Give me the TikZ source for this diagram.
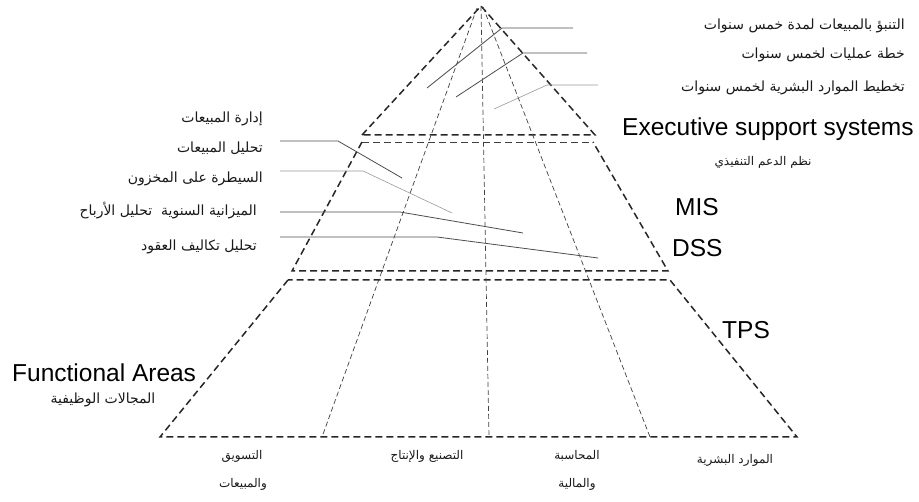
\documentclass[tikz,border=0pt]{standalone}
\usepackage{fontspec}
\newfontfamily\arabicfont[Script=Arabic]{DejaVu Sans}
\newfontfamily\latinfont{Liberation Sans}
\TeXXeTstate=1
\begin{document}
\begin{tikzpicture}[x=1pt,y=-1pt,
  outer/.style={line width=1.5pt, dash pattern=on 7pt off 4pt, black!85},
  thinsplit/.style={line width=0.9pt, dash pattern=on 7pt off 4pt, black!75},
  inner/.style={line width=0.7pt, dash pattern=on 5pt off 3pt, black!75},
  leader/.style={line width=0.8pt, black!70},
  leaderlight/.style={line width=0.6pt, black!40},
  artext/.style={font=\arabicfont\fontsize{14}{16}\selectfont, inner sep=0pt, text=black!90},
  arsmall/.style={artext, font=\arabicfont\fontsize{12}{14}\selectfont},
  lattext/.style={font=\latinfont\fontsize{24.5}{28}\selectfont, inner sep=0pt, text=black}]
\useasboundingbox (0,0) rectangle (919,502);

% pyramid corners
\coordinate (apex) at (481,6);
\coordinate (tl) at (362,135);
\coordinate (tr) at (595,135);
\coordinate (ml) at (362,142);
\coordinate (mr) at (593,142);
\coordinate (mbl) at (292,271);
\coordinate (mbr) at (668,271);
\coordinate (bl) at (288,280);
\coordinate (br) at (670,280);
\coordinate (fl) at (160,437);
\coordinate (fr) at (797,437);

% top triangle
\draw[outer] (tl) -- (apex) -- (tr) -- cycle;
% middle band
\draw[thinsplit] (ml) -- (mr);
\draw[outer] (ml) -- (mbl) -- (mbr) -- (mr);
% bottom band
\draw[outer] (bl) -- (fl) -- (fr) -- (br) -- cycle;

% functional area dividers
\coordinate (d1t) at (477,8);
\coordinate (d1b) at (322,437);
\coordinate (d2b) at (489,437);
\coordinate (d3t) at (483,7);
\coordinate (d3b) at (650,437);
\draw[inner] (d1t) -- (d1b);
\draw[inner] (apex) -- (d2b);
\draw[inner] (d3t) -- (d3b);

% leaders at the top
\coordinate (t1a) at (573,28); \coordinate (t1b) at (502,28); \coordinate (t1c) at (427,88);
\coordinate (t2a) at (587,53); \coordinate (t2b) at (523,53); \coordinate (t2c) at (456,97);
\coordinate (t3a) at (598,85); \coordinate (t3b) at (547,85); \coordinate (t3c) at (494,109);
\draw[leader] (t1a) -- (t1b) -- (t1c);
\draw[leader] (t2a) -- (t2b) -- (t2c);
\draw[leaderlight] (t3a) -- (t3b) -- (t3c);

% leaders on the left
\coordinate (l1a) at (280,141); \coordinate (l1b) at (338,141); \coordinate (l1c) at (402,178);
\coordinate (l2a) at (280,171); \coordinate (l2b) at (363,171); \coordinate (l2c) at (452,213);
\coordinate (l3a) at (280,212); \coordinate (l3b) at (400,212); \coordinate (l3c) at (523,233);
\coordinate (l4a) at (280,237); \coordinate (l4b) at (437,237); \coordinate (l4c) at (598,258);
\draw[leader] (l1a) -- (l1b) -- (l1c);
\draw[leaderlight] (l2a) -- (l2b) -- (l2c);
\draw[leader] (l3a) -- (l3b) -- (l3c);
\draw[leader] (l4a) -- (l4b) -- (l4c);

% strategic labels
\node[artext, anchor=east] (s1) at (905,26) {\beginR التنبؤ بالمبيعات لمدة خمس سنوات\endR};
\node[artext, anchor=east] (s2) at (905,55) {\beginR خطة عمليات لخمس سنوات\endR};
\node[artext, anchor=east] (s3) at (905,88) {\beginR تخطيط الموارد البشرية لخمس سنوات\endR};

% management labels
\node[artext, anchor=east] (m1) at (263,119) {\beginR إدارة المبيعات\endR};
\node[artext, anchor=east] (m2) at (263,148) {\beginR تحليل المبيعات\endR};
\node[artext, anchor=east] (m3) at (263,179) {\beginR السيطرة على المخزون\endR};
\node[artext, anchor=east] (m4) at (257,211) {\beginR الميزانية السنوية\ \ تحليل الأرباح\endR};
\node[artext, anchor=east] (m5) at (257,247) {\beginR تحليل تكاليف العقود\endR};

% system levels
\node[lattext, anchor=west] (ess) at (622,129) {Executive support systems};
\node[arsmall] (essar) at (763,162) {\beginR نظم الدعم التنفيذي\endR};
\node[lattext, anchor=west] (mis) at (675,207) {MIS};
\node[lattext, anchor=west] (dss) at (672,248) {DSS};
\node[lattext, anchor=west] (tps) at (722,330) {TPS};
\node[lattext, anchor=west] (fa) at (12,373) {Functional Areas};
\node[artext] (faar) at (103,400) {\beginR المجالات الوظيفية\endR};

% functional areas
\node[arsmall] (a1) at (242,456) {\beginR التسويق\endR};
\node[arsmall] (a1b) at (243,484) {\beginR والمبيعات\endR};
\node[arsmall] (a2) at (427,456) {\beginR التصنيع والإنتاج\endR};
\node[arsmall] (a3) at (577,456) {\beginR المحاسبة\endR};
\node[arsmall] (a3b) at (577,484) {\beginR والمالية\endR};
\node[arsmall] (a4) at (735,460) {\beginR الموارد البشرية\endR};
\end{tikzpicture}
\end{document}
